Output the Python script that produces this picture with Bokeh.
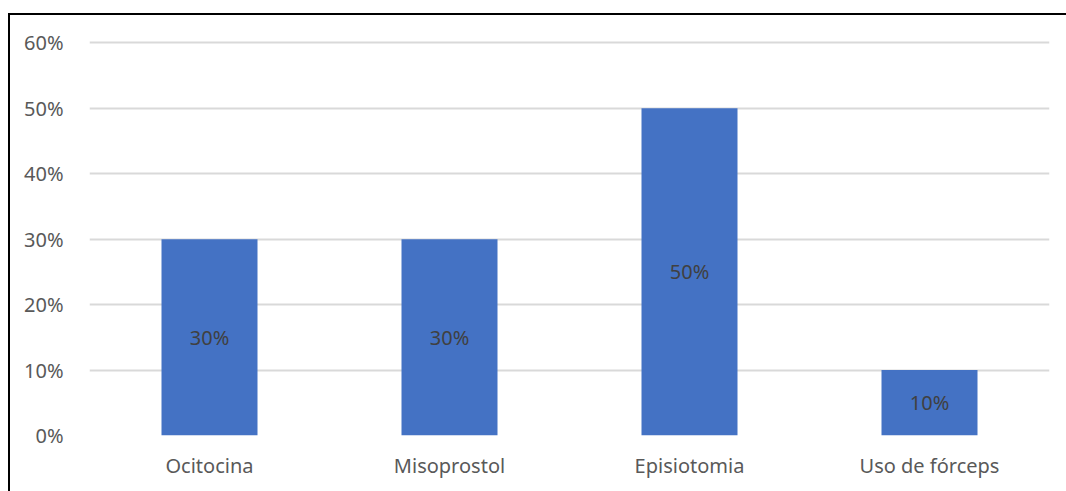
from bokeh.plotting import figure
from bokeh.models import ColumnDataSource, FixedTicker, NumeralTickFormatter, Range1d, FactorRange
from bokeh.core.properties import value
from bokeh.embed import file_html
from bokeh.resources import INLINE

categories = ["Ocitocina", "Misoprostol", "Episiotomia", "Uso de fórceps"]
values = [0.30, 0.30, 0.50, 0.10]
labels = ["30%", "30%", "50%", "10%"]
y_ticks = [0, 0.1, 0.2, 0.3, 0.4, 0.5, 0.6]

FONT = "Noto Sans"

src = ColumnDataSource(dict(
    cat=categories, val=values, mid=[v / 2 for v in values], lab=labels))

p = figure(width=1058, height=478, x_range=FactorRange(*categories, range_padding=0),
           y_range=Range1d(0, 0.605), output_backend="svg", toolbar_location=None,
           min_border_left=79, min_border_right=19, min_border_top=24, min_border_bottom=58,
           margin=(13, 0, 0, 8))
p.styles = {"border-left": "2px solid black", "border-top": "2px solid black"}
p.outline_line_color = None
p.background_fill_color = "white"
p.border_fill_color = "white"

p.vbar(x="cat", top="val", width=0.4, source=src, fill_color="#4472C4", line_color=None)
p.text(x="cat", y="mid", text="lab", source=src, text_align="center", text_baseline="middle",
       text_font=value(FONT), text_font_size="20px", text_color="#404040")

p.xgrid.visible = False
p.ygrid.grid_line_color = "#d9d9d9"
p.ygrid.grid_line_width = 2
p.yaxis.ticker = FixedTicker(ticks=y_ticks)
p.yaxis.formatter = NumeralTickFormatter(format="0%")
for ax in (p.xaxis[0], p.yaxis[0]):
    ax.axis_line_color = None
    ax.major_tick_line_color = None
    ax.minor_tick_line_color = None
    ax.major_label_text_font = FONT
    ax.major_label_text_font_size = "20px"
    ax.major_label_text_color = "#595959"
p.yaxis.major_label_standoff = 20
p.xaxis.major_label_standoff = 10

open("out.html", "w").write(file_html(p, INLINE))
